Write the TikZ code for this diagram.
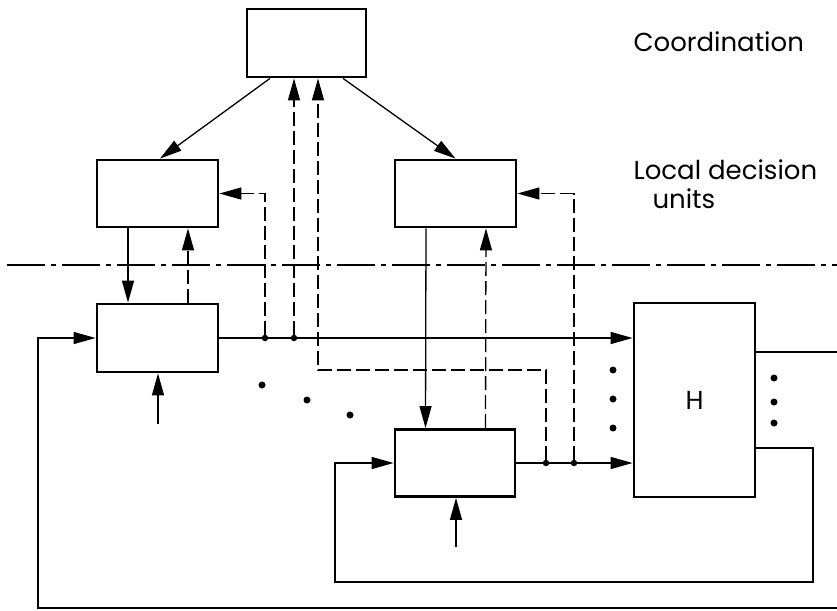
\documentclass[tikz,border=0pt]{standalone}
\usepackage{fontspec}
\setmainfont{Poppins}
\usetikzlibrary{arrows.meta,calc}
\begin{document}
\begin{tikzpicture}[x=1pt,y=-1pt,
  blk/.style={draw,line width=2.8pt,rectangle,inner sep=0pt},
  link/.style={line width=1.3pt},
  feed/.style={line width=1.3pt,dash pattern=on 14pt off 5pt},
  tip/.style={-{Triangle[length=22pt,width=12pt]}},
  junc/.style={circle,fill,inner sep=0pt,minimum size=6.5pt},
  lbl/.style={font=\fontsize{26}{30}\selectfont}]

% canvas
\fill[white] (0,0) rectangle (837,610);
\useasboundingbox (0,0) rectangle (837,610);

% blocks
\node[blk,minimum width=119pt,minimum height=68pt] (coord) at (306.5,43) {};
\node[blk,minimum width=121pt,minimum height=67pt] (ldA) at (157.5,193.5) {};
\node[blk,minimum width=121pt,minimum height=67pt] (ldB) at (455.5,193.5) {};
\node[blk,minimum width=121pt,minimum height=68pt] (plA) at (157.5,338) {};
\node[blk,minimum width=120pt,minimum height=67pt] (plB) at (455,463) {};
\node[blk,minimum width=121pt,minimum height=194pt,lbl] (H) at (694.5,400) {H};

% level labels
\node[lbl,anchor=base west] (tco) at (630,52) {Coordination};
\node[lbl,anchor=base west] (tld) at (630,179) {Local decision};
\node[lbl,anchor=base west] (tun) at (649,208) {units};

% level separator
\coordinate (dl) at (7,265);
\coordinate (dr) at (837,265);
\draw[line width=1.6pt,dash pattern=on 38pt off 6pt on 5pt off 6pt] (dl) -- (dr);

% branch points on the outputs
\node[junc] (jA1) at (265,338) {};
\node[junc] (jA2) at (294,338) {};
\node[junc] (jB1) at (546,463) {};
\node[junc] (jB2) at (574,463) {};
\coordinate (bend) at (318,370);

% coordination to local units
\draw[link,tip] ([xshift=-36.5pt]coord.south) -- ([xshift=2.5pt]ldA.north);
\draw[link,tip] ([xshift=36.5pt]coord.south) -- (ldB.north);

% local units to subsystems and back
\draw[link,tip] ([xshift=-29.5pt]ldA.south) -- ([xshift=-29.5pt]plA.north);
\draw[feed,tip] ([xshift=30.5pt]plA.north) -- ([xshift=30.5pt]ldA.south);
\draw[link,tip] ([xshift=-29.5pt]ldB.south) -- ([xshift=-29.5pt]plB.north);
\draw[feed,tip] ([xshift=30.5pt]plB.north) -- ([xshift=30.5pt]ldB.south);

% measured outputs fed upward
\draw[feed,tip] (jA1) |- (ldA.east);
\draw[feed,tip] (jA2) -- (jA2 |- coord.south);
\draw[feed,tip] (jB1) |- (bend) -- (bend |- coord.south);
\draw[feed,tip] (jB2) |- (ldB.east);

% subsystem outputs into interconnection H
\draw[link,tip] (plA.east) -- (plA.east -| H.west);
\draw[link,tip] (plB.east) -- (plB.east -| H.west);

% external inputs
\coordinate (inA) at (158,424);
\coordinate (inB) at (456,547);
\draw[link,tip] (inA) -- (inA |- plA.south);
\draw[link,tip] (inB) -- (inB |- plB.south);

% interconnection outputs back to the subsystems
\coordinate (oA) at (837,352);
\coordinate (rA) at (837,608);
\coordinate (lA) at (38,608);
\draw[link] (H.east |- oA) -- (oA);
\draw[link,tip] (rA) -- (lA) |- (plA.west);
\coordinate (rB) at (813,448);
\coordinate (bB) at (335,582);
\draw[link,tip] (H.east |- rB) -- (rB) |- (bB) |- (plB.west);

% omitted subsystems
\foreach \p in {(262,385),(307,400),(350,415),
                (613,370),(613,399),(613,428),
                (774,378),(774,402),(774,423)}
  \fill \p circle (3.5pt);
\end{tikzpicture}
\end{document}
